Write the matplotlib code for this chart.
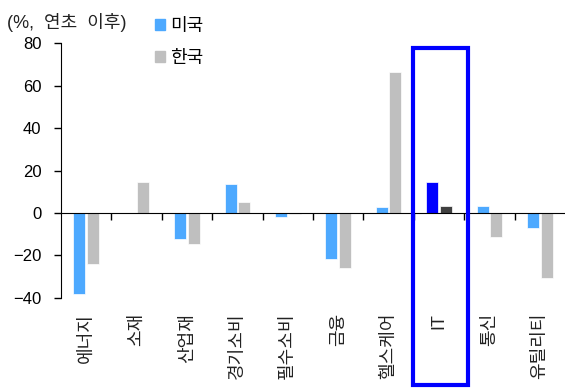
import matplotlib.pyplot as plt
import numpy as np
from matplotlib.patches import Rectangle, Patch

plt.rcParams['font.family'] = ['Liberation Sans', 'Noto Sans CJK KR']
plt.rcParams['axes.unicode_minus'] = True

# 연초 이후 업종별 수익률 (%)
sectors = ['에너지', '소재', '산업재', '경기소비', '필수소비', '금융', '헬스케어', 'IT', '통신', '유틸리티']
us = [-38, 0.2, -12, 13.6, -2, -21.6, 2.7, 14.6, 3.5, -7]
kr = [-24, 14.4, -14.6, 5, -0.3, -26, 66.6, 3.3, -11.3, -30.7]
highlight = 'IT'

c_us, c_kr = '#4DA9FF', '#BFBFBF'
c_us_hl, c_kr_hl = '#0000FF', '#404040'


def main():
    fig = plt.figure(figsize=(5.65, 3.88), dpi=100)
    ax = fig.add_axes([0.108, 0.232, 0.892, 0.657])

    x = np.arange(len(sectors))
    w = 0.24
    us_col = [c_us_hl if s == highlight else c_us for s in sectors]
    kr_col = [c_kr_hl if s == highlight else c_kr for s in sectors]
    ax.bar(x - 0.135, us, w, color=us_col, edgecolor='white', linewidth=0.5, zorder=2)
    ax.bar(x + 0.135, kr, w, color=kr_col, edgecolor='white', linewidth=0.5, zorder=2)

    ax.set_xlim(-0.5, len(sectors) - 0.5)
    ax.set_ylim(-40, 80)
    ax.set_yticks(range(-40, 81, 20))
    ax.tick_params(axis='y', labelsize=12, length=5, width=1, pad=9, colors='black')

    # x axis at zero with ticks on category borders
    ax.spines['bottom'].set_position(('data', 0))
    ax.spines['top'].set_visible(False)
    ax.spines['right'].set_visible(False)
    ax.set_xticks(np.arange(0.5, len(sectors) - 0.5, 1))
    ax.set_xticklabels([])
    ax.tick_params(axis='x', length=5, width=1, direction='out')

    for i, s in enumerate(sectors):
        ax.text(i, -47, s, rotation=90, ha='center', va='top', fontsize=13,
                color='#222222', clip_on=False)

    # highlight box
    i_hl = sectors.index(highlight)
    ax.add_patch(Rectangle((i_hl - 0.51, -81), 1.09, 158.6, fill=False,
                           edgecolor='#0000FF', linewidth=3, clip_on=False, zorder=3))

    fig.text(0.012, 0.942, '(%,  연초  이후)', fontsize=13, color='#222222', va='center')
    handles = [Patch(color=c_us, label='미국'), Patch(color=c_kr, label='한국')]
    fig.legend(handles=handles, loc='upper left', bbox_to_anchor=(0.245, 0.995),
               frameon=False, fontsize=13, handlelength=0.55, handleheight=0.55,
               handletextpad=0.3, labelspacing=0.8)

    fig.savefig('out.png', dpi=100)


if __name__ == '__main__':
    main()
